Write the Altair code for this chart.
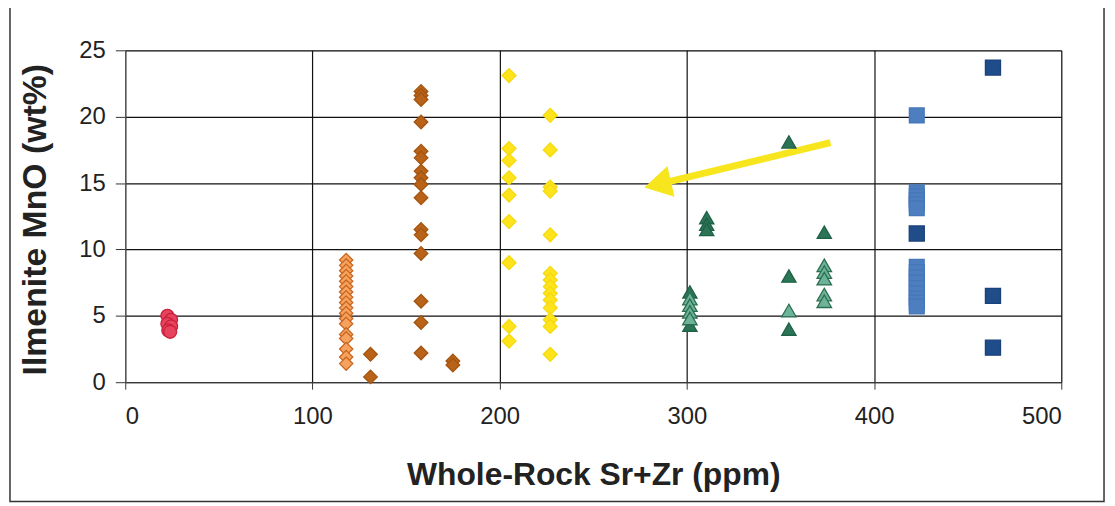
import altair as alt
import pandas as pd

# ---- data ----
red_x = [22.5, 24.5, 22.5, 24.5, 23.0, 24.0]
red_y = [5.0, 4.7, 4.4, 4.2, 3.9, 3.8]

orange_x = [118] * 18
orange_y = [9.2, 8.8, 8.4, 8.0, 7.6, 7.2, 6.8, 6.4, 6.0, 5.6, 5.2, 4.8, 4.4, 3.6, 3.3, 2.5, 1.9, 1.4]

brown_x = [158] * 16 + [131, 131, 175, 175]
brown_y = [21.9, 21.6, 21.3, 19.6, 17.4, 16.9, 15.9, 15.4, 14.9, 13.9, 11.5, 11.1, 9.7, 6.1, 4.5, 2.2,
           2.1, 0.4, 1.6, 1.3]

yellow_x = [205] * 9 + [227] * 14
yellow_y = [23.1, 17.6, 16.7, 15.4, 14.1, 12.1, 9.0, 4.2, 3.1,
            20.1, 17.5, 14.7, 14.4, 11.1, 8.2, 7.7, 7.2, 6.7, 6.2, 5.6, 4.7, 4.2, 2.1]

dkgreen_x = [310.6, 310.6, 310.6, 354.5, 354.5, 354.5, 373.4, 301.6, 301.6]
dkgreen_y = [12.4, 11.9, 11.5, 18.1, 8.0, 4.0, 11.3, 6.8, 4.3]

ltgreen_x = [301.6, 301.6, 301.6, 301.6, 354.5, 373.4, 373.4, 373.4, 373.4, 373.4]
ltgreen_y = [6.3, 5.8, 5.3, 4.8, 5.4, 8.8, 8.3, 7.8, 6.6, 6.1]

ltblue_x = [422.8] * 15
ltblue_y = [20.1, 14.3, 14.0, 13.7, 13.4, 13.1, 8.7, 8.3, 7.9, 7.5, 7.1, 6.7, 6.3, 6.0, 5.7]

dkblue_x = [422.8, 463.5, 463.5, 463.5]
dkblue_y = [11.2, 23.7, 6.5, 2.6]

arrow_x = [376.7, 284.4]
arrow_y = [18.04, 14.9]

x_ticks = [0, 100, 200, 300, 400, 500]
y_ticks = [0, 5, 10, 15, 20, 25]

series = ["red", "orange", "brown", "yellow", "dkgreen", "ltgreen", "ltblue", "dkblue"]
xs = [red_x, orange_x, brown_x, yellow_x, dkgreen_x, ltgreen_x, ltblue_x, dkblue_x]
ys = [red_y, orange_y, brown_y, yellow_y, dkgreen_y, ltgreen_y, ltblue_y, dkblue_y]
shapes = ["circle", "diamond", "diamond", "diamond", "triangle-up", "triangle-up", "square", "square"]
fills = ["#e8435c", "#f6a25e", "#b8621a", "#ffe41c", "#2b7556", "#6db39a", "#4c7ec0", "#1f4d8a"]
strokes = ["#c9213d", "#c9661f", "#a4540f", "#f5da10", "#1f6146", "#2b6e50", "#4677b8", "#1a4178"]
sizes = [170, 230, 230, 250, 210, 210, 200, 200]

rows = []
for s, xl, yl in zip(series, xs, ys):
    for a, b in zip(xl, yl):
        rows.append({"series": s, "x": a, "y": b})
df = pd.DataFrame(rows)

xscale = alt.Scale(domain=[0, 500], nice=False)
yscale = alt.Scale(domain=[0, 25], nice=False)
FONT = "Liberation Sans"

xaxis = alt.Axis(values=x_ticks, grid=True, gridColor="#111", gridWidth=1.2,
                 domainColor="#444", tickColor="#333", tickSize=7,
                 labelFont=FONT, labelFontSize=24, labelColor="#222", labelPadding=16,
                 title="Whole-Rock Sr+Zr (ppm)", titleFont=FONT, titleFontSize=32,
                 titleFontWeight="bold", titleColor="#222",
                 titleX=471, titleY=103, titleBaseline="alphabetic")
yaxis = alt.Axis(values=y_ticks, grid=True, gridColor="#111", gridWidth=1.2,
                 domainColor="#666", tickColor="#333", tickSize=10,
                 labelFont=FONT, labelFontSize=24, labelColor="#222", labelPadding=10,
                 title="Ilmenite MnO (wt%)", titleFont=FONT, titleFontSize=34,
                 titleFontWeight="bold", titleColor="#222",
                 titleX=-80, titleY=170, titleBaseline="alphabetic")

points = alt.Chart(df).mark_point(filled=True, strokeWidth=1.3, opacity=1).encode(
    x=alt.X("x:Q", scale=xscale, axis=xaxis),
    y=alt.Y("y:Q", scale=yscale, axis=yaxis),
    shape=alt.Shape("series:N", scale=alt.Scale(domain=series, range=shapes), legend=None),
    fill=alt.Fill("series:N", scale=alt.Scale(domain=series, range=fills), legend=None),
    stroke=alt.Stroke("series:N", scale=alt.Scale(domain=series, range=strokes), legend=None),
    size=alt.Size("series:N", scale=alt.Scale(domain=series, range=sizes), legend=None),
)

adf = pd.DataFrame({"x": arrow_x, "y": arrow_y})
arrow_line = alt.Chart(adf).mark_line(color="#f7e51e", strokeWidth=7).encode(
    x=alt.X("x:Q", scale=xscale), y=alt.Y("y:Q", scale=yscale))
arrow_head = alt.Chart(adf.iloc[[1]]).mark_point(
    shape="triangle-left", size=1000, angle=347, filled=True, color="#f7e51e", opacity=1
).encode(x=alt.X("x:Q", scale=xscale), y=alt.Y("y:Q", scale=yscale))

frame = alt.Chart(pd.DataFrame({"a": [0]})).mark_rect(
    fill=None, stroke="#333", strokeWidth=1.5
).encode(x=alt.value(-116), x2=alt.value(985), y=alt.value(-44), y2=alt.value(454))

chart = alt.layer(frame, arrow_line, arrow_head, points).properties(
    width=942, height=334,
    autosize=alt.AutoSizeParams(type="none"),
    padding={"left": 118, "top": 41, "right": 46, "bottom": 121},
).configure_view(stroke="#777", strokeDash=[2, 1], strokeWidth=1).configure(background="white")

chart.save("out.html", embed_options={"renderer": "svg", "actions": False})
